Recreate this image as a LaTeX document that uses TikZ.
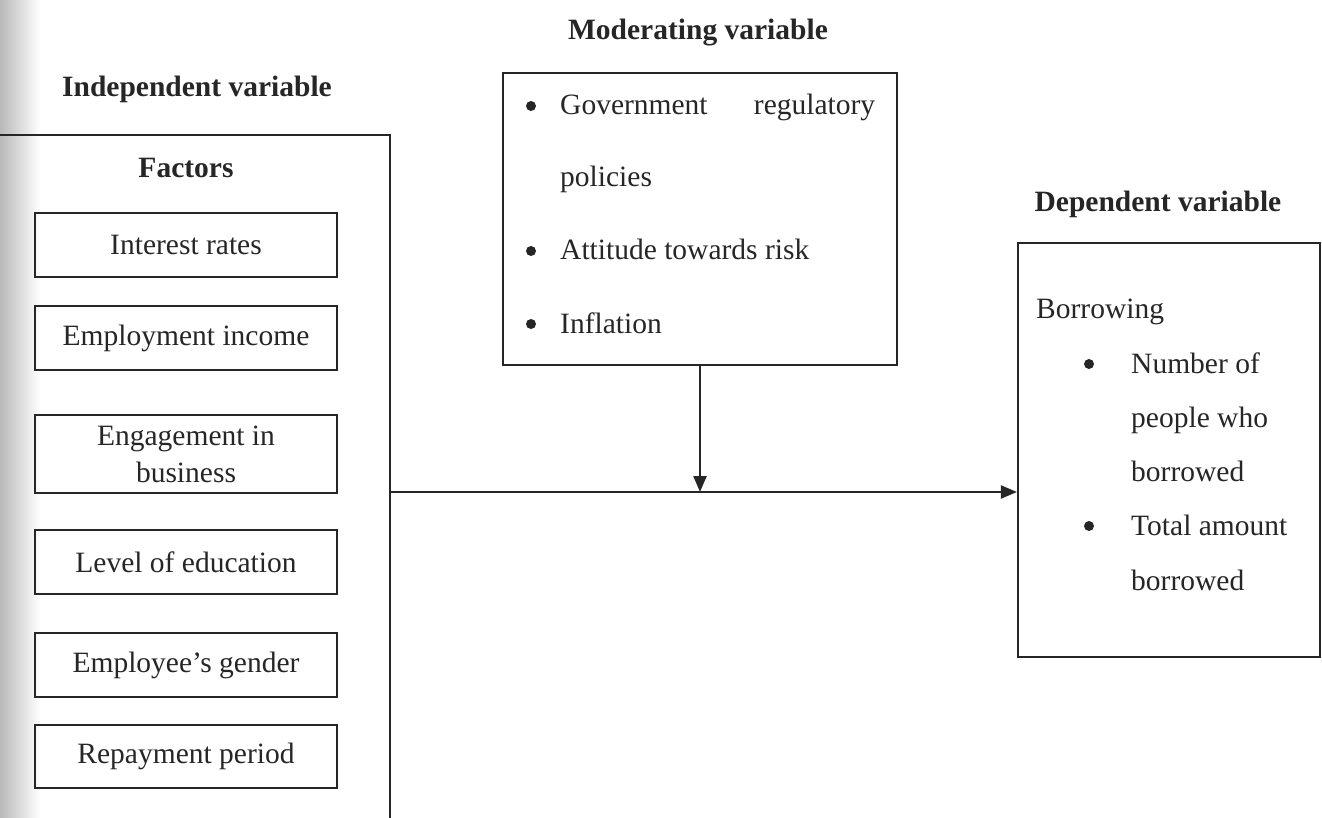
\documentclass[tikz,border=0pt]{standalone}
\usepackage{fontspec}
\setmainfont{Liberation Serif}
\usetikzlibrary{arrows.meta}
\definecolor{ink}{gray}{0.15}
\begin{document}
\begin{tikzpicture}[x=1pt,y=-1pt,
  every node/.style={font=\fontsize{29.5}{35}\selectfont, inner sep=0pt, text=ink},
  hd/.style={font=\fontsize{29.5}{35}\selectfont\bfseries, anchor=base},
  txt/.style={anchor=base west},
  fbox/.style={draw=ink, line width=2.2pt, minimum width=302pt, minimum height=64pt, align=center},
  frame/.style={draw=ink, line width=2.2pt},
  bul/.style={circle, fill=ink, inner sep=0pt, minimum size=10pt},
  conn/.style={draw=ink, line width=2.2pt, -{Triangle[length=16pt,width=13pt]}}
]
\useasboundingbox (0,0) rectangle (1322,818);
% scanned page edge shading
\shade[left color=gray!55, right color=white] (0,0) rectangle (40,818);

% headings
\node[hd] (hmod) at (698,40) {Moderating variable};
\node[hd] (hind) at (197,97) {Independent variable};
\node[hd] (hdep) at (1158,212) {Dependent variable};

% independent frame
\node[frame, minimum width=400pt, minimum height=705pt] (fac) at (190,487.5) {};
\node[hd] (hfac) at (186,178) {Factors};
\node[fbox] (f1) at (186,245) {Interest rates};
\node[fbox] (f2) at (186,338) {Employment income};
\node[fbox, minimum height=78pt] (f3) at (186,454) {Engagement in\\[2pt]business};
\node[fbox] (f4) at (186,562) {Level of education};
\node[fbox] (f5) at (186,665) {Employee’s gender};
\node[fbox, minimum height=63pt] (f6) at (186,756.5) {Repayment period};

% moderating frame
\node[frame, minimum width=394pt, minimum height=292pt] (mod) at (700,219) {};
\node[bul] (mb1) at (531,106) {};
\node[txt] (m1) at (560,115) {\makebox[315pt][s]{Government\hfill regulatory}};
\node[txt] (m2) at (560,187) {policies};
\node[bul] (mb2) at (531,251) {};
\node[txt] (m3) at (560,260) {Attitude towards risk};
\node[bul] (mb3) at (531,324) {};
\node[txt] (m4) at (560,333) {Inflation};

% dependent frame
\node[frame, minimum width=302pt, minimum height=414pt] (dep) at (1169,450) {};
\node[txt] (d0) at (1036,318) {Borrowing};
\node[bul] (db1) at (1089,364) {};
\node[txt] (d1) at (1131,373) {Number of};
\node[txt] (d2) at (1131,427) {people who};
\node[txt] (d3) at (1131,481) {borrowed};
\node[bul] (db2) at (1089,526) {};
\node[txt] (d4) at (1131,535) {Total amount};
\node[txt] (d5) at (1131,590) {borrowed};

% connectors
\coordinate (j) at (mod.south |- 0,492);
\draw[conn] (fac.east |- j) -- (dep.west |- j);
\draw[conn] (mod.south) -- (j);
\end{tikzpicture}
\end{document}
